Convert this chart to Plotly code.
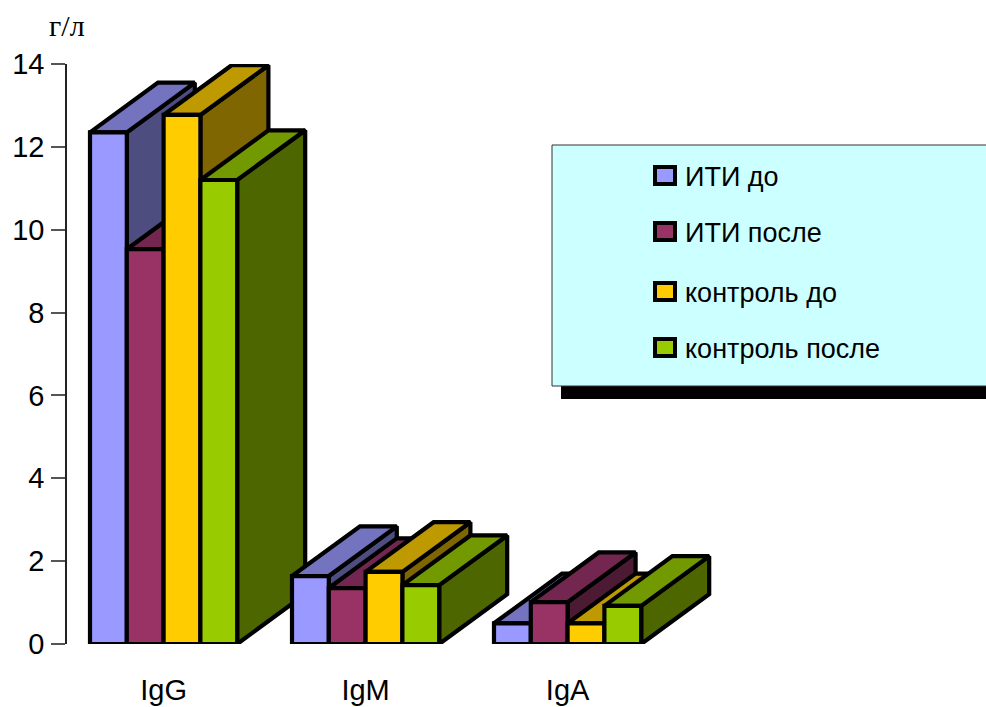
import plotly.graph_objects as go

# Immunoglobulin concentrations, g/l
groups = ["IgG", "IgM", "IgA"]
series_names = ["ИТИ до", "ИТИ после", "контроль до", "контроль после"]
iti_before = [12.35, 1.64, 0.50]
iti_after = [9.53, 1.35, 1.01]
control_before = [12.77, 1.74, 0.50]
control_after = [11.20, 1.42, 0.92]
series_values = [iti_before, iti_after, control_before, control_after]

front_colors = ["#9999FF", "#993366", "#FFCC00", "#99CC00"]
top_colors = ["#7373BF", "#732650", "#BF9900", "#739900"]
side_colors = ["#4D4D80", "#4D1A33", "#806600", "#4D6600"]

W, H = 986, 707
AXIS_LEFT, PLOT_TOP, PLOT_BOTTOM = 67, 64, 644
GROUP_PX = 202.0         # distance between neighbouring groups
FIRST_GROUP_PX = 90.0    # left edge of the first group
BAR_W = 36.8 / GROUP_PX  # bar width in group units
DEPTH_X = 68 / GROUP_PX  # oblique depth along x
DEPTH_Y = 1.2            # oblique depth along y, in g/l
EDGE = dict(color="black", width=4.2)


def face(xs, ys, color, name):
    return go.Scatter(
        x=xs + xs[:1], y=ys + ys[:1], mode="lines", fill="toself", fillcolor=color,
        line=EDGE, name=name, showlegend=False, hoverinfo="name", cliponaxis=False,
    )


fig = go.Figure()

# Bars are painted left to right so that each one hides the side of its neighbour
for g in range(len(groups)):
    for s, values in enumerate(series_values):
        x0 = g + s * BAR_W
        x1 = x0 + BAR_W
        v = values[g]
        name = series_names[s]
        fig.add_trace(face([x1, x1 + DEPTH_X, x1 + DEPTH_X, x1],
                           [0, DEPTH_Y, v + DEPTH_Y, v], side_colors[s], name))
        fig.add_trace(face([x0, x0 + DEPTH_X, x1 + DEPTH_X, x1],
                           [v, v + DEPTH_Y, v + DEPTH_Y, v], top_colors[s], name))
        fig.add_trace(face([x0, x1, x1, x0], [0, 0, v, v], front_colors[s], name))


def px_x(p):
    return (p - AXIS_LEFT) / (W - AXIS_LEFT)


def px_y(p):
    return (PLOT_BOTTOM - p) / (PLOT_BOTTOM - PLOT_TOP)


def paper_rect(x0, y0, x1, y1, fill, line_color=None, line_width=0):
    return dict(type="rect", xref="paper", yref="paper", layer="above",
                x0=px_x(x0), x1=px_x(x1), y0=px_y(y1), y1=px_y(y0),
                fillcolor=fill, line=dict(color=line_color or fill, width=line_width))


# Legend panel with its drop shadow
shapes = [
    paper_rect(561, 200, 990, 399, "black"),
    paper_rect(552, 145, 990, 386, "#CCFFFF", "#333333", 1),
]
annotations = [
    dict(text="г/л", xref="paper", yref="paper", x=px_x(47), y=px_y(25), xanchor="left",
         yanchor="middle", showarrow=False, font=dict(family="Liberation Serif", size=30, color="black")),
]
swatch_tops = [165, 221, 281, 337]
for name, color, top in zip(series_names, front_colors, swatch_tops):
    shapes.append(paper_rect(655, top + 2, 675, top + 19, color, "black", 4))
    annotations.append(dict(
        text=name, xref="paper", yref="paper", x=px_x(683), y=px_y(top + 12),
        xanchor="left", yanchor="middle", showarrow=False,
        font=dict(family="Liberation Sans", size=27, color="black"),
    ))

fig.update_layout(
    width=W, height=H, margin=dict(l=AXIS_LEFT, r=0, t=PLOT_TOP, b=H - PLOT_BOTTOM, pad=0),
    paper_bgcolor="white", plot_bgcolor="white", showlegend=False,
    shapes=shapes, annotations=annotations,
    font=dict(family="Liberation Sans", color="black"),
    xaxis=dict(
        range=[(AXIS_LEFT - FIRST_GROUP_PX) / GROUP_PX, (W - FIRST_GROUP_PX) / GROUP_PX],
        tickmode="array", tickvals=[g + 2 * BAR_W for g in range(len(groups))], ticktext=groups,
        showgrid=False, zeroline=False, showline=False, ticks="", ticklabelstandoff=26,
        tickfont=dict(size=29), automargin=False,
    ),
    yaxis=dict(
        range=[0, 14], tickmode="array", tickvals=list(range(0, 15, 2)),
        showgrid=False, zeroline=False, showline=True, linecolor="#222222", linewidth=1.5,
        ticks="outside", ticklen=14, tickwidth=1.5, tickcolor="#555555", tickfont=dict(size=29),
        ticklabelstandoff=1, automargin=False,
    ),
)

fig.write_html("out.html")
